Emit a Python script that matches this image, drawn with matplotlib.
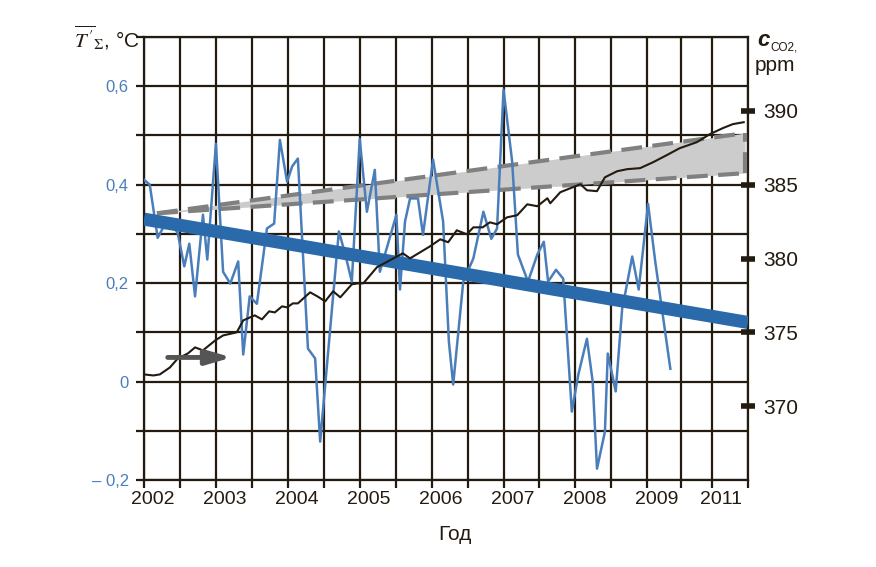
import matplotlib
matplotlib.use('Agg')
import matplotlib.pyplot as plt
from matplotlib.transforms import ScaledTranslation

plt.rcParams['font.family'] = ['Liberation Sans Narrow', 'Liberation Sans', 'DejaVu Sans']
plt.rcParams['mathtext.fontset'] = 'stix'

# temperature anomaly, deg C (left axis)
temp_years = [2002.00, 2002.08, 2002.19, 2002.26, 2002.39, 2002.47, 2002.56, 2002.63, 2002.71, 2002.82,
              2002.88, 2003.00, 2003.10, 2003.20, 2003.31, 2003.38, 2003.47, 2003.57, 2003.71, 2003.81,
              2003.89, 2003.99, 2004.06, 2004.14, 2004.28, 2004.38, 2004.45, 2004.71, 2004.80, 2004.89,
              2005.00, 2005.10, 2005.21, 2005.28, 2005.39, 2005.51, 2005.56, 2005.63, 2005.70, 2005.81,
              2005.88, 2006.02, 2006.16, 2006.24, 2006.30, 2006.44, 2006.58, 2006.72, 2006.83, 2006.91,
              2007.00, 2007.12, 2007.20, 2007.34, 2007.47, 2007.56, 2007.62, 2007.73, 2007.83, 2007.95,
              2008.04, 2008.16, 2008.24, 2008.30, 2008.41, 2008.45, 2008.56, 2008.65, 2008.69, 2008.79,
              2008.88, 2009.01, 2009.11, 2009.32]
temp_vals = [0.410, 0.400, 0.292, 0.311, 0.321, 0.301, 0.234, 0.280, 0.173, 0.339,
             0.248, 0.483, 0.223, 0.199, 0.244, 0.055, 0.173, 0.158, 0.311, 0.321,
             0.491, 0.406, 0.437, 0.453, 0.067, 0.047, -0.122, 0.305, 0.258, 0.203,
             0.493, 0.345, 0.430, 0.223, 0.278, 0.339, 0.187, 0.325, 0.372, 0.372,
             0.298, 0.451, 0.325, 0.081, -0.006, 0.203, 0.250, 0.345, 0.290, 0.311,
             0.593, 0.447, 0.258, 0.203, 0.258, 0.284, 0.203, 0.227, 0.209, -0.061,
             0.014, 0.087, 0.000, -0.177, -0.102, 0.057, -0.020, 0.148, 0.177, 0.254,
             0.187, 0.361, 0.244, 0.026]

# linear trend of temperature
trend_years = [2002.0, 2010.4]
trend_vals = [0.33, 0.12]

# CO2 concentration, ppm (right axis)
co2_years = [2002.00, 2002.13, 2002.22, 2002.36, 2002.47, 2002.61, 2002.71, 2002.82, 2002.99, 2003.10,
             2003.29, 2003.38, 2003.54, 2003.64, 2003.74, 2003.82, 2003.92, 2003.99, 2004.07, 2004.14,
             2004.31, 2004.41, 2004.52, 2004.63, 2004.73, 2004.89, 2004.98, 2005.05, 2005.24, 2005.42,
             2005.60, 2005.70, 2005.84, 2005.98, 2006.12, 2006.23, 2006.35, 2006.49, 2006.58, 2006.71,
             2006.81, 2006.91, 2007.05, 2007.19, 2007.33, 2007.47, 2007.61, 2007.65, 2007.79, 2007.93,
             2008.07, 2008.16, 2008.30, 2008.41, 2008.58, 2008.72, 2008.90, 2009.08, 2009.27, 2009.45,
             2009.69, 2009.87, 2010.05, 2010.19, 2010.34]
co2_vals = [372.15, 372.08, 372.15, 372.62, 373.23, 373.57, 373.98, 373.78, 374.45, 374.79,
            375.00, 375.81, 376.15, 375.88, 376.42, 376.35, 376.76, 376.69, 376.96, 376.96,
            377.71, 377.44, 377.10, 377.78, 377.37, 378.25, 378.32, 378.32, 379.41, 379.88,
            380.35, 380.01, 380.42, 380.83, 381.30, 381.10, 381.91, 381.64, 382.11, 382.11,
            382.45, 382.32, 382.79, 382.93, 383.67, 383.54, 384.08, 383.74, 384.49, 384.76,
            385.03, 384.62, 384.56, 385.50, 385.91, 386.05, 386.12, 386.52, 387.00, 387.47,
            387.88, 388.42, 388.83, 389.10, 389.23]

# projected CO2 band
band_years = [2002.18, 2010.36]
band_upper = [383.06, 388.49]
band_lower = [383.06, 385.78]

# axis ticks
year_ticks = [2002, 2003, 2004, 2005, 2006, 2007, 2008, 2009, 2009.9]
year_labels = ['2002', '2003', '2004', '2005', '2006', '2007', '2008', '2009', '2011']
half_ticks = [2002.5, 2003.5, 2004.5, 2005.5, 2006.5, 2007.5, 2008.5, 2009.47, 2010.4]
temp_ticks = [-0.2, 0, 0.2, 0.4, 0.6]
temp_labels = ['\u2013 0,2', '0', '0,2', '0,4', '0,6']
temp_minor = [-0.1, 0.1, 0.3, 0.5, 0.7]
co2_ticks = [370, 375, 380, 385, 390]

dark = '#231a10'
blue_thin = '#4a7ebb'
blue_thick = '#2a6aab'

fig = plt.figure(figsize=(8.76, 5.67), dpi=100)
ax = fig.add_axes([144 / 876, 1 - 480 / 567, 604 / 876, 443 / 567])
ax.set_xlim(2002, 2010.4)
ax.set_ylim(-0.2, 0.7)

ax.set_xticks(year_ticks)
ax.set_xticklabels(year_labels)
ax.set_xticks(half_ticks, minor=True)
ax.set_yticks(temp_ticks)
ax.set_yticklabels(temp_labels)
ax.set_yticks(temp_minor, minor=True)
ax.grid(True, which='both', color=dark, linewidth=1.6)
ax.tick_params(which='both', direction='out', length=6, width=1.6, color=dark)
ax.tick_params(axis='x', labelsize=14, labelcolor=dark, pad=2)
ax.tick_params(axis='y', labelsize=12, labelcolor=blue_thin, pad=5)
for sp in ax.spines.values():
    sp.set_color(dark)
    sp.set_linewidth(1.6)
for lab in ax.get_xticklabels():
    lab.set_transform(lab.get_transform() + ScaledTranslation(0.09, 0, fig.dpi_scale_trans))

# band on ppm axis
axr = ax.twinx()
axr.set_ylim(365, 395)
axr.set_yticks(co2_ticks)
axr.tick_params(axis='y', direction='inout', length=10, width=4, color=dark,
                labelsize=15, labelcolor=dark, pad=6)
for sp in axr.spines.values():
    sp.set_visible(False)
axr.fill_between(band_years, band_lower, band_upper, color='#cccccc', linewidth=0)
dash = (0, (5, 2.5))
axr.plot(band_years, band_upper, color='#808080', lw=3, linestyle=dash)
axr.plot(band_years, band_lower, color='#808080', lw=3, linestyle=dash)
axr.plot([band_years[-1], band_years[-1]], [band_lower[-1], band_upper[-1]],
         color='#808080', lw=3, linestyle=dash)

# temperature, trend and CO2 lines on top
axt = ax.twinx()
axt.set_ylim(-0.2, 0.7)
axt.set_yticks([])
for sp in axt.spines.values():
    sp.set_visible(False)
axt.plot(temp_years, temp_vals, color=blue_thin, lw=1.8)
axt.plot(trend_years, trend_vals, color=blue_thick, lw=9.4, solid_capstyle='butt')
axt.plot(co2_years, co2_vals, color=dark, lw=1.5, transform=axr.transData)
axt.annotate('', xy=(2003.22, 0.049), xytext=(2002.33, 0.049),
             arrowprops=dict(arrowstyle='-|>,head_length=0.75,head_width=0.22',
                             color='#555555', lw=3.5, mutation_scale=20,
                             shrinkA=0, shrinkB=0))

# axis titles
fig.text(140 / 876, 1 - 47 / 567, "$\\overline{T\\,'}_{\\Sigma}$, \u00b0C",
         fontsize=15, ha='right', va='baseline', color=dark)
fig.text(757 / 876, 1 - 46 / 567, 'c', fontsize=16, fontstyle='italic', fontweight='bold',
         ha='left', va='baseline', color=dark)
fig.text(770 / 876, 1 - 50 / 567, 'CO2,', fontsize=8.5, ha='left', va='baseline', color=dark)
fig.text(755 / 876, 1 - 71 / 567, 'ppm', fontsize=15, ha='left', va='baseline', color=dark)
fig.text(455 / 876, 1 - 535 / 567, 'Год', fontsize=15, ha='center', va='center', color=dark)

fig.savefig('out.png', dpi=100)
